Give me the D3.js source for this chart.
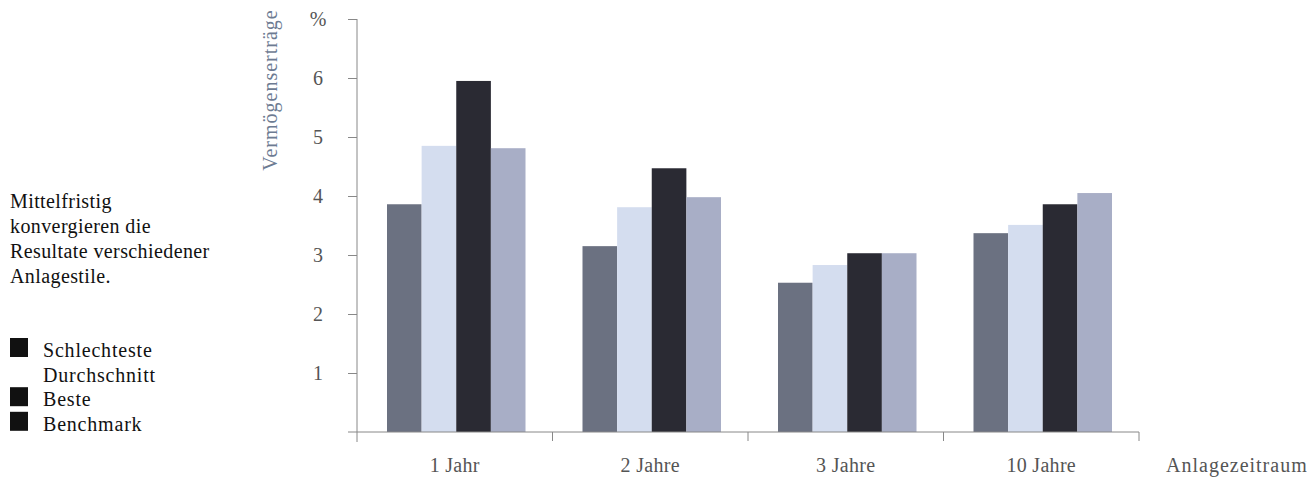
<!DOCTYPE html>
<html>
<head>
<meta charset="utf-8">
<script src="https://cdn.jsdelivr.net/npm/d3@7"></script>
<style>
  body { margin: 0; background: #fff; }
  svg text { font-family: "Liberation Serif", "DejaVu Serif", serif; font-size: 20px; }
</style>
</head>
<body>
<svg id="chart" width="1313" height="479"></svg>
<script>
const categories = ['1 Jahr', '2 Jahre', '3 Jahre', '10 Jahre'];
const seriesNames = ['Schlechteste', 'Durchschnitt', 'Beste', 'Benchmark'];
const schlechteste = [3.86, 3.15, 2.53, 3.37];
const durchschnitt = [4.85, 3.81, 2.83, 3.51];
const beste = [5.95, 4.47, 3.03, 3.86];
const benchmark = [4.81, 3.98, 3.03, 4.05];
const yTicks = [1, 2, 3, 4, 5, 6];
const noteLines = ['Mittelfristig', 'konvergieren die', 'Resultate verschiedener', 'Anlagestile.'];

const colors = ['#6b7181', '#d4ddef', '#2a2a33', '#a8aec6'];
const legendColors = ['#111', '#fff', '#111', '#111'];
const axisColor = '#888';
const labelColor = '#555';

const values = [schlechteste, durchschnitt, beste, benchmark];
const rows = categories.map((c, i) => ({
  cat: c,
  vals: seriesNames.map((s, k) => ({ key: s, k: k, v: values[k][i] }))
}));

const svg = d3.select('#chart');

const x0 = d3.scaleBand().domain(categories).range([357, 1139]).paddingInner(0);
const x1 = d3.scaleBand().domain(seriesNames).range([30, x0.bandwidth() - 27]).padding(0);
const y = d3.scaleLinear().domain([0, 7]).range([432, 19]);

// bars
svg.append('g')
  .selectAll('g')
  .data(rows)
  .join('g')
  .attr('transform', d => `translate(${x0(d.cat)},0)`)
  .selectAll('rect')
  .data(d => d.vals)
  .join('rect')
  .attr('x', d => x1(d.key))
  .attr('width', x1.bandwidth())
  .attr('y', d => y(d.v))
  .attr('height', d => y(0) - y(d.v))
  .attr('fill', d => colors[d.k]);

// y axis
const yAxis = d3.axisLeft(y).tickValues([...yTicks, 7]).tickSize(9).tickPadding(30)
  .tickFormat(d => d === 7 ? '%' : d);
const gy = svg.append('g').attr('transform', 'translate(357,0)').call(yAxis);
gy.select('.domain').remove();
gy.selectAll('.tick line').attr('stroke', axisColor);
gy.selectAll('.tick text')
  .attr('fill', labelColor)
  .attr('font-size', 20)
  .attr('font-family', null)
  .attr('text-anchor', 'middle');
gy.append('line')
  .attr('x1', 0).attr('x2', 0)
  .attr('y1', y(7)).attr('y2', y(0) + 10)
  .attr('stroke', axisColor);

// x axis
const gx = svg.append('g').attr('transform', `translate(0,${y(0)})`);
gx.append('line')
  .attr('x1', 348).attr('x2', 1139)
  .attr('stroke', axisColor);
gx.selectAll('line.tk')
  .data(categories.slice(1).concat(['end']))
  .join('line')
  .attr('class', 'tk')
  .attr('x1', d => d === 'end' ? x0.range()[1] : x0(d))
  .attr('x2', d => d === 'end' ? x0.range()[1] : x0(d))
  .attr('y1', 0).attr('y2', 9)
  .attr('stroke', axisColor);
gx.selectAll('text')
  .data(categories)
  .join('text')
  .attr('x', d => x0(d) + x0.bandwidth() / 2)
  .attr('y', 40)
  .attr('text-anchor', 'middle')
  .attr('letter-spacing', 0.3)
  .attr('fill', labelColor)
  .text(d => d);

svg.append('text')
  .attr('x', 1166).attr('y', 472)
  .attr('letter-spacing', 1)
  .attr('fill', labelColor)
  .text('Anlagezeitraum');

// y title
svg.append('text')
  .attr('transform', 'translate(277,90) rotate(-90)')
  .attr('text-anchor', 'middle')
  .attr('letter-spacing', 1)
  .attr('fill', '#6d7b92')
  .text('Vermögenserträge');

// side note
svg.append('g')
  .selectAll('text')
  .data(noteLines)
  .join('text')
  .attr('x', 10)
  .attr('y', (d, i) => 208 + i * 25)
  .attr('letter-spacing', 0.4)
  .attr('fill', '#111')
  .text(d => d);

// legend
const lg = svg.append('g')
  .selectAll('g')
  .data(seriesNames)
  .join('g')
  .attr('transform', (d, i) => `translate(10,${357 + i * 24.6})`);
lg.append('rect')
  .attr('x', 0).attr('y', -19)
  .attr('width', 18).attr('height', 19)
  .attr('fill', (d, i) => legendColors[i]);
lg.append('text')
  .attr('x', 33)
  .attr('letter-spacing', 0.8)
  .attr('fill', '#111')
  .text(d => d);
</script>
</body>
</html>
